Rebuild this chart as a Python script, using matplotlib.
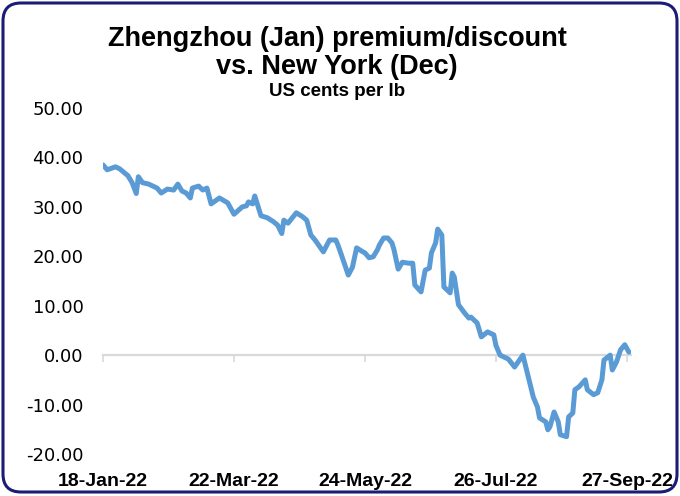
import matplotlib

matplotlib.use("Agg")
import matplotlib.dates as mdates
import matplotlib.pyplot as plt
import numpy as np
from matplotlib.patches import FancyBboxPatch
from matplotlib.ticker import FormatStrFormatter

# ZCE Jan vs ICE Dec spread, US cents/lb
dates = [
    "2022-01-18", "2022-01-20", "2022-01-24", "2022-01-26", "2022-01-30", "2022-02-01",
    "2022-02-03", "2022-02-04", "2022-02-06", "2022-02-09", "2022-02-13", "2022-02-15",
    "2022-02-18", "2022-02-21", "2022-02-23", "2022-02-25", "2022-02-27", "2022-03-01",
    "2022-03-02", "2022-03-05", "2022-03-07", "2022-03-09", "2022-03-11", "2022-03-15",
    "2022-03-19", "2022-03-22", "2022-03-26", "2022-03-28", "2022-03-29", "2022-03-31",
    "2022-04-01", "2022-04-04", "2022-04-07", "2022-04-10", "2022-04-12", "2022-04-14",
    "2022-04-15", "2022-04-17", "2022-04-21", "2022-04-24", "2022-04-26", "2022-04-28",
    "2022-04-30", "2022-05-04", "2022-05-07", "2022-05-10", "2022-05-11", "2022-05-13",
    "2022-05-16", "2022-05-18", "2022-05-20", "2022-05-23", "2022-05-24", "2022-05-26",
    "2022-05-28", "2022-05-30", "2022-05-31", "2022-06-02", "2022-06-04", "2022-06-06",
    "2022-06-07", "2022-06-09", "2022-06-11", "2022-06-14", "2022-06-16", "2022-06-17",
    "2022-06-20", "2022-06-22", "2022-06-24", "2022-06-25", "2022-06-27", "2022-06-28",
    "2022-06-30", "2022-07-01", "2022-07-04", "2022-07-05", "2022-07-06", "2022-07-08",
    "2022-07-11", "2022-07-13", "2022-07-14", "2022-07-17", "2022-07-19", "2022-07-22",
    "2022-07-25", "2022-07-26", "2022-07-28", "2022-08-01", "2022-08-04", "2022-08-08",
    "2022-08-10", "2022-08-13", "2022-08-15", "2022-08-16", "2022-08-19", "2022-08-20",
    "2022-08-21", "2022-08-23", "2022-08-25", "2022-08-26", "2022-08-29", "2022-08-30",
    "2022-09-01", "2022-09-02", "2022-09-04", "2022-09-07", "2022-09-08", "2022-09-11",
    "2022-09-13", "2022-09-15", "2022-09-16", "2022-09-19", "2022-09-20", "2022-09-22",
    "2022-09-24", "2022-09-26", "2022-09-28",
]
spread = [
    38.5, 37.5, 38.1, 37.7, 36.3, 34.9,
    32.7, 36.1, 34.9, 34.6, 33.8, 32.8,
    33.6, 33.4, 34.6, 33.2, 32.8, 31.8,
    33.8, 34.2, 33.4, 33.8, 30.6, 31.8,
    30.8, 28.5, 30.0, 30.2, 31.0, 30.6,
    32.2, 28.2, 27.8, 27.0, 26.3, 24.6,
    27.3, 26.7, 28.8, 28.0, 27.3, 24.3,
    23.3, 20.9, 23.3, 23.3, 22.3, 19.9,
    16.2, 17.8, 21.7, 20.9, 20.7, 19.7,
    19.9, 21.3, 22.3, 23.7, 23.7, 22.7,
    21.3, 17.4, 18.8, 18.6, 18.6, 14.2,
    12.8, 17.2, 17.6, 20.7, 22.7, 25.5,
    24.3, 13.8, 12.6, 16.6, 15.8, 10.2,
    8.5, 7.5, 7.7, 6.5, 3.7, 4.7,
    4.1, 2.0, 0.0, -0.8, -2.4, 0.0,
    -3.4, -8.5, -10.5, -12.7, -13.5, -15.1,
    -14.5, -11.5, -13.5, -16.1, -16.5, -12.5,
    -11.7, -7.0, -6.4, -5.0, -7.0, -8.0,
    -7.6, -5.0, -1.0, 0.0, -3.0, -1.4,
    1.1, 2.1, 0.6,
]
tick_dates = ["2022-01-18", "2022-03-22", "2022-05-24", "2022-07-26", "2022-09-27"]
y_ticks = [-20, -10, 0, 10, 20, 30, 40, 50]

x = np.array(dates, dtype="datetime64[D]")
xt = np.array(tick_dates, dtype="datetime64[D]")

fig = plt.figure(figsize=(6.8, 4.96), dpi=100)

# frame with rounded corners, in pixel units
bg = fig.add_axes([0, 0, 1, 1], zorder=0)
bg.set_xlim(0, 680)
bg.set_ylim(496, 0)
bg.axis("off")
bg.add_patch(FancyBboxPatch((3, 3), 674, 489, boxstyle="round,pad=0,rounding_size=18",
                            facecolor="white", edgecolor="#1c1c78", linewidth=2.2))

title_font = ["Liberation Sans", "DejaVu Sans"]
bg.text(337, 39, "Zhengzhou (Jan) premium/discount", ha="center", va="center",
        fontsize=19.5, fontweight="bold", family=title_font)
bg.text(337, 67, "vs. New York (Dec)", ha="center", va="center",
        fontsize=19.5, fontweight="bold", family=title_font)
bg.text(337, 92, "US cents per lb", ha="center", va="center",
        fontsize=13.5, fontweight="bold", family=title_font)

ax = fig.add_axes([103 / 680, 42 / 496, 528 / 680, 346 / 496], zorder=1)
ax.patch.set_alpha(0)
ax.plot(x, spread, color="#5b9bd5", linewidth=3.6, solid_joinstyle="round",
        solid_capstyle="round", zorder=3)

ax.set_xlim(x[0], x[-1] + np.timedelta64(1, "D"))
ax.set_ylim(-20, 50)
ax.set_yticks(y_ticks)
ax.yaxis.set_major_formatter(FormatStrFormatter("%.2f"))
ax.tick_params(axis="y", length=0, pad=14, labelsize=13)

for side in ["top", "right", "left"]:
    ax.spines[side].set_visible(False)
ax.spines["bottom"].set_position(("data", 0))
ax.spines["bottom"].set_color("#d9d9d9")
ax.spines["bottom"].set_linewidth(1.6)
ax.set_xticks(xt)
ax.tick_params(axis="x", direction="out", length=5, width=1.2, color="#d9d9d9",
               labelbottom=False)

sec = ax.secondary_xaxis("bottom")
sec.set_xticks(xt)
sec.xaxis.set_major_formatter(mdates.DateFormatter("%d-%b-%y"))
sec.spines["bottom"].set_visible(False)
sec.tick_params(axis="x", length=0, pad=14)
for lab in sec.get_xticklabels():
    lab.set_family(["Liberation Sans", "DejaVu Sans"])
    lab.set_fontweight("bold")
    lab.set_fontsize(14)

fig.savefig("out.png", dpi=100)
